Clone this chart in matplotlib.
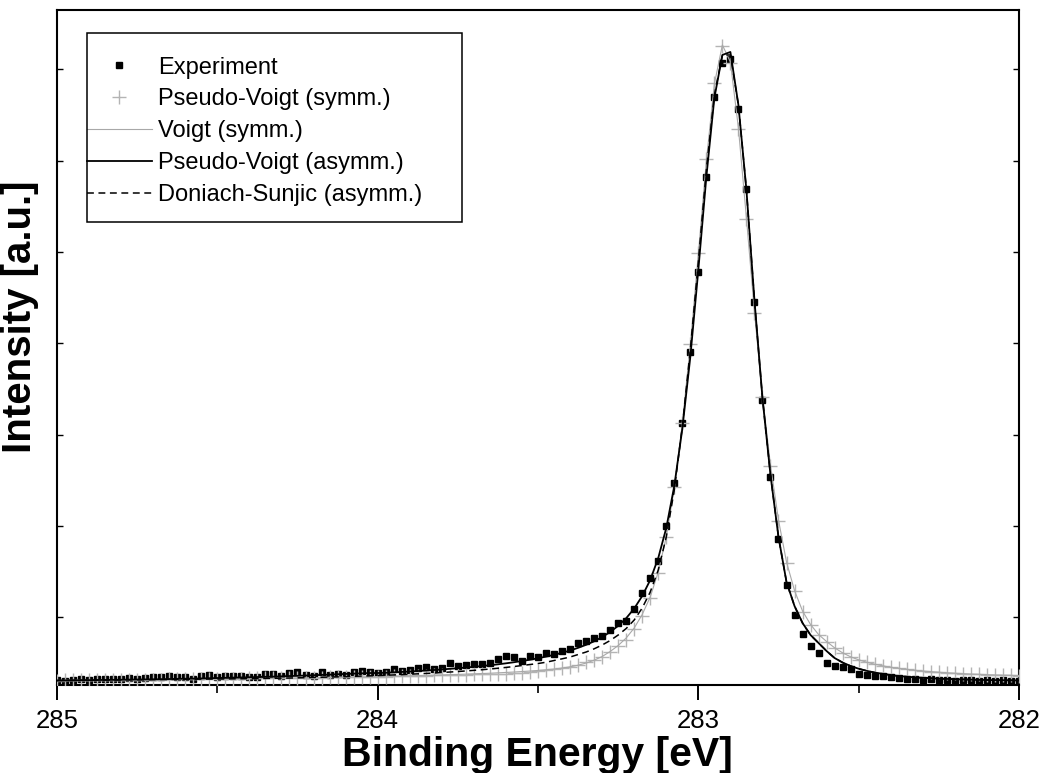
import numpy as np
import matplotlib
matplotlib.use("Agg")
import matplotlib.pyplot as plt
from matplotlib.ticker import MultipleLocator, NullFormatter
from matplotlib.patches import Rectangle

plt.rcParams['font.family'] = ['Liberation Sans', 'DejaVu Sans']

# energy grid of the scan: 285 eV down to 282 eV in 0.025 eV steps
e_start, e_stop, n_pts = 285.0, 282.0, 121
energy = np.linspace(e_start, e_stop, n_pts)

# intensities [a.u.]
experiment = [50, 45, 55, 60, 55, 60, 60, 65, 60, 70,
              60, 73, 83, 77, 90, 83, 83, 60, 90, 100,
              83, 90, 90, 90, 83, 83, 107, 110, 90, 123,
              127, 100, 93, 133, 100, 107, 100, 130, 140, 133,
              123, 135, 157, 140, 150, 173, 177, 157, 167, 223,
              193, 200, 207, 210, 217, 260, 293, 277, 243, 293,
              283, 323, 307, 343, 357, 417, 440, 467, 490, 550,
              623, 645, 757, 917, 1075, 1240, 1590, 2020, 2620, 3330,
              4130, 5080, 5880, 6220, 6260, 5760, 4960, 3830, 2850, 2080,
              1460, 1000, 700, 510, 395, 325, 225, 187, 183, 165,
              110, 100, 90, 90, 77, 67, 60, 65, 55, 60,
              50, 55, 45, 50, 55, 45, 50, 40, 50, 45,
              45]

pv_symm = [45, 46, 47, 48, 49, 50, 50, 51, 51, 52,
           53, 54, 54, 55, 56, 57, 58, 59, 60, 61,
           62, 63, 64, 65, 66, 67, 68, 69, 70, 71,
           72, 73, 74, 75, 76, 78, 79, 80, 81, 83,
           84, 85, 87, 89, 91, 93, 95, 97, 99, 101,
           103, 105, 107, 110, 112, 110, 113, 117, 124, 132,
           142, 150, 158, 167, 183, 200, 227, 250, 283, 333,
           390, 450, 557, 690, 867, 1123, 1483, 1983, 2623, 3410,
           4323, 5257, 6017, 6390, 6217, 5557, 4657, 3723, 2883, 2190,
           1640, 1223, 940, 733, 600, 500, 433, 367, 317, 277,
           250, 227, 207, 190, 177, 167, 157, 148, 140, 134,
           128, 123, 118, 114, 110, 107, 104, 101, 99, 97,
           95]

voigt_symm = [40, 41, 42, 43, 44, 45, 46, 47, 48, 49,
              50, 51, 52, 53, 54, 55, 56, 57, 58, 59,
              60, 61, 62, 63, 64, 65, 66, 67, 68, 70,
              71, 72, 73, 75, 76, 77, 79, 80, 82, 83,
              85, 87, 89, 91, 93, 95, 97, 99, 101, 104,
              106, 109, 112, 115, 118, 122, 126, 130, 135, 140,
              146, 153, 160, 170, 182, 198, 220, 248, 285, 335,
              395, 470, 570, 705, 880, 1130, 1480, 1970, 2610, 3400,
              4310, 5240, 6010, 6400, 6230, 5570, 4670, 3730, 2890, 2200,
              1650, 1230, 945, 740, 605, 505, 435, 372, 322, 282,
              252, 228, 208, 192, 178, 167, 157, 148, 140, 134,
              128, 123, 118, 114, 110, 107, 104, 101, 99, 97,
              95]

pv_asymm = [45, 46, 47, 48, 49, 50, 51, 52, 53, 54,
            55, 56, 57, 58, 60, 62, 63, 64, 66, 68,
            70, 72, 74, 76, 78, 80, 82, 84, 87, 90,
            92, 95, 98, 101, 104, 108, 111, 114, 117, 120,
            120, 123, 127, 131, 135, 140, 145, 150, 156, 162,
            168, 175, 182, 190, 198, 207, 217, 228, 240, 253,
            268, 284, 302, 322, 345, 372, 402, 437, 480, 530,
            592, 668, 765, 890, 1050, 1270, 1570, 1990, 2560, 3280,
            4150, 5080, 5870, 6300, 6330, 5800, 4950, 3850, 2870, 2100,
            1480, 1030, 790, 620, 500, 420, 340, 270, 225, 190,
            163, 142, 125, 112, 100, 90, 83, 77, 72, 68,
            64, 61, 58, 56, 54, 52, 50, 49, 48, 47,
            46]

ds_asymm = [45, 46, 47, 48, 48, 49, 50, 50, 51, 52,
            52, 53, 54, 55, 55, 56, 57, 58, 59, 60,
            60, 61, 62, 63, 64, 65, 66, 67, 69, 70,
            72, 74, 76, 78, 80, 82, 84, 87, 90, 92,
            95, 98, 101, 104, 108, 112, 116, 120, 125, 130,
            135, 141, 147, 153, 160, 168, 176, 185, 195, 205,
            215, 228, 245, 262, 280, 305, 330, 362, 400, 445,
            500, 565, 650, 770, 930, 1150, 1480, 1950, 2580, 3350,
            4230, 5150, 5900, 6300, 6300, 5800, 4950, 3850, 2870, 2100,
            1480, 1030, 790, 620, 500, 420, 340, 270, 225, 190,
            163, 142, 125, 112, 100, 90, 83, 77, 72, 68,
            64, 61, 58, 56, 54, 52, 50, 49, 48, 47,
            46]

labels = ["Experiment", "Pseudo-Voigt (symm.)", "Voigt (symm.)",
          "Pseudo-Voigt (asymm.)", "Doniach-Sunjic (asymm.)"]
y_tick_pos = [677, 1590, 2503, 3417, 4330, 5243, 6157]

fig = plt.figure(figsize=(10.4, 7.73), dpi=100)
ax = fig.add_axes([0.0548, 0.1138, 0.925, 0.8733])

h1, = ax.plot(energy, experiment, 's', color='black', ms=5, zorder=2)
h2, = ax.plot(energy, pv_symm, '+', color='#b4b4b4', ms=10, mew=1.0, zorder=3)
h3, = ax.plot(energy, voigt_symm, '-', color='#a8a8a8', lw=0.8, zorder=4)
h4, = ax.plot(energy, pv_asymm, '-', color='black', lw=1.3, zorder=5)
h5, = ax.plot(energy, ds_asymm, '--', color='black', lw=1.1, dashes=(4.5, 3), zorder=6)

ax.set_xlim(285, 282)
ax.set_ylim(0, 6750)
ax.xaxis.set_major_locator(MultipleLocator(1))
ax.xaxis.set_minor_locator(MultipleLocator(0.5))
ax.xaxis.set_major_formatter(plt.FuncFormatter(lambda v, p: f"{v:.0f}"))
ax.set_yticks(y_tick_pos)
ax.yaxis.set_major_formatter(NullFormatter())

ax.tick_params(axis='x', which='major', direction='out', length=11, width=1.4,
               labelsize=18.5, pad=6, top=False)
ax.tick_params(axis='x', which='minor', direction='out', length=6, width=1.2, top=False)
ax.tick_params(axis='y', which='major', direction='in', length=4, width=1.0,
               left=True, right=True)
for s in ax.spines.values():
    s.set_linewidth(1.5)

ax.set_xlabel("Binding Energy [eV]", fontsize=29.5, fontweight='bold')
ax.xaxis.set_label_coords(0.499, -0.075)
ax.set_ylabel("Intensity [a.u.]", fontsize=29, fontweight='bold')
ax.yaxis.set_label_coords(-0.019, 0.545)

leg = ax.legend([h1, h2, h3, h4, h5], labels, loc='upper left',
                bbox_to_anchor=(0.0312, 0.931), frameon=False, borderpad=0,
                borderaxespad=0, handlelength=2.75, handletextpad=0.27,
                labelspacing=0.42, fontsize=17, numpoints=1)
ax.add_patch(Rectangle((0.0312, 0.686), 0.3898, 0.28, transform=ax.transAxes,
                       fill=False, lw=1.1, ec='black', zorder=7))

fig.savefig("out.png", dpi=100)
